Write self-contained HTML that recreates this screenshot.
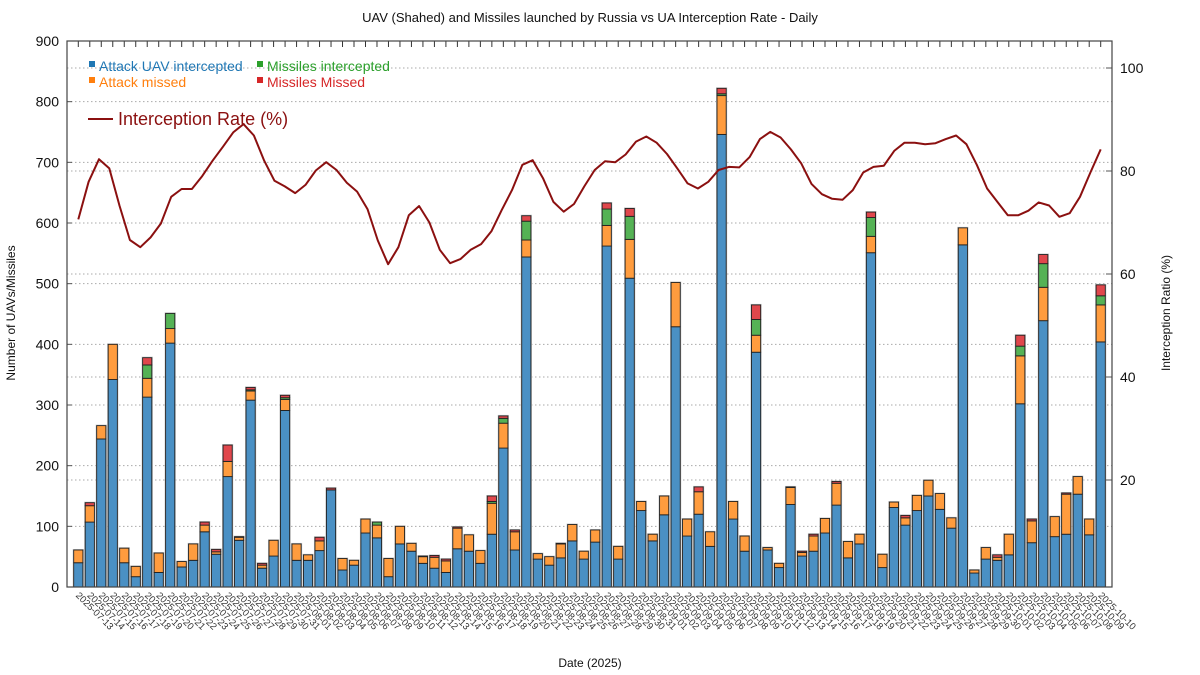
<!DOCTYPE html>
<html><head><meta charset="utf-8"><style>
html,body{margin:0;padding:0;background:#fff;}
svg{display:block;font-family:"Liberation Sans",Arial,sans-serif;}
</style></head><body>
<svg id="chart" width="1200" height="675" viewBox="0 0 1200 675" xmlns="http://www.w3.org/2000/svg">
<text x="590" y="22" font-size="13" text-anchor="middle" fill="#111">UAV (Shahed) and Missiles launched by Russia vs UA Interception Rate - Daily</text>
<g id="grid"></g>
<g id="bars"></g>
<g id="line"></g>
<g id="axes"></g>
<g>
<rect x="89" y="61" width="6" height="6" fill="#1f77b4"/>
<text x="99" y="71" font-size="14" fill="#1f77b4">Attack UAV intercepted</text>
<rect x="89" y="77" width="6" height="6" fill="#ff7f0e"/>
<text x="99" y="87" font-size="14" fill="#ff7f0e">Attack missed</text>
<rect x="257" y="61" width="6" height="6" fill="#2ca02c"/>
<text x="267" y="71" font-size="14" fill="#2ca02c">Missiles intercepted</text>
<rect x="257" y="77" width="6" height="6" fill="#d62728"/>
<text x="267" y="87" font-size="14" fill="#d62728">Missiles Missed</text>
<line x1="88" y1="119" x2="113" y2="119" stroke="#8b1010" stroke-width="2"/>
<text x="118" y="125" font-size="18" fill="#8b1010">Interception Rate (%)</text>
</g>
<text transform="translate(15,313) rotate(-90)" font-size="12" text-anchor="middle" fill="#111">Number of UAVs/Missiles</text>
<text transform="translate(1170,313) rotate(-90)" font-size="12" text-anchor="middle" fill="#111">Interception Ratio (%)</text>
<text x="590" y="667" font-size="12" text-anchor="middle" fill="#111">Date (2025)</text>
</svg>
<script>
const blueVals=[40,107,244,342,40,17,313,24,402,33,44,91,54,182,77,308,31,51,291,44,44,60,160,28,36,89,81,17,71,59,39,31,24,63,59,39,87,229,61,544,46,36,48,76,46,74,562,46,509,126,76,119,429,84,120,67,746,112,59,387,61,32,136,51,59,89,135,48,71,551,32,131,102,126,150,128,97,564,23,46,44,53,302,73,439,83,87,153,86,404];
const orangeVals=[21,27,22,58,24,17,31,32,24,9,27,11,4,25,5,15,5,26,18,27,9,16,0,19,8,23,21,30,29,13,11,18,19,34,27,21,51,41,30,28,9,14,23,27,13,20,34,21,64,15,11,31,73,28,37,24,64,29,25,28,4,7,28,6,25,24,36,27,16,27,22,9,12,25,26,26,17,28,5,19,5,34,79,36,55,33,66,29,26,61];
const greenVals=[0,0,0,0,0,0,22,0,25,0,0,0,0,0,0,2,0,0,3,0,0,0,0,0,0,0,5,0,0,0,0,0,0,0,0,0,3,8,0,31,0,0,0,0,0,0,27,0,38,0,0,0,0,0,0,0,3,0,0,26,0,0,0,0,0,0,0,0,0,31,0,0,0,0,0,0,0,0,0,0,0,0,16,0,39,0,0,0,0,15];
const redVals=[0,5,0,0,0,0,12,0,0,0,0,5,4,27,1,4,3,0,4,0,0,6,3,0,0,0,0,0,0,0,1,3,3,2,0,0,9,4,3,9,0,0,1,0,0,0,10,0,13,0,0,0,0,0,8,0,9,0,0,24,0,0,1,2,3,0,3,0,0,9,0,0,4,0,0,0,0,0,0,0,4,0,18,3,15,0,2,0,0,18];
const rateVals=[70.6,77.9,82.3,80.5,73.2,66.6,65.2,67.1,69.8,75.0,76.5,76.5,79.0,82.0,84.7,87.5,89.1,86.9,82.0,78.1,77.0,75.7,77.3,80.1,81.7,80.2,77.7,76.0,72.6,66.5,61.9,65.2,71.4,73.2,70.0,64.7,62.1,62.9,64.7,65.8,68.3,72.4,76.3,81.2,82.1,78.6,74.0,72.1,73.6,77.0,80.2,81.9,81.7,83.2,85.7,86.7,85.5,83.3,80.5,77.6,76.6,77.9,80.2,80.8,80.7,82.7,86.2,87.6,86.5,84.2,81.5,77.5,75.5,74.6,74.4,76.3,79.7,80.8,81.0,83.9,85.5,85.5,85.2,85.4,86.2,86.9,85.2,81.2,76.6,74.0,71.4,71.4,72.3,73.9,73.3,71.1,71.8,75.0,79.7,84.2];
const leftTicks=[0,100,200,300,400,500,600,700,800,900];
const rightTicks=[0,20,40,60,80,100];
const startDate=[2025,6,13];
const dateLabels=[];
for(let i=0;i<blueVals.length;i++){const d=new Date(Date.UTC(startDate[0],startDate[1],startDate[2]+i));dateLabels.push(d.toISOString().slice(0,10));}

const NS="http://www.w3.org/2000/svg";
const L=67,R=1112,T=41,B=587;
const n=blueVals.length;
const xFirst=78.3,xLast=1100.7;
function xBar(i){return xFirst+i*(xLast-xFirst)/(n-1);}
function yL(v){return B-v*(B-T)/900;}
function yR(v){return 583-v*5.15;}
function xRate(i){return xFirst+i*(xLast-xFirst)/(rateVals.length-1);}
function mk(tag,attrs,parent){const e=document.createElementNS(NS,tag);for(const k in attrs)e.setAttribute(k,attrs[k]);parent.appendChild(e);return e;}

const grid=document.getElementById('grid'),bars=document.getElementById('bars'),line=document.getElementById('line'),axes=document.getElementById('axes');
leftTicks.forEach(v=>{if(v>0&&v<900){const g=mk('line',{x1:L,x2:R,y1:yL(v),y2:yL(v),stroke:'#aaa','stroke-dasharray':'1.5,2.5','stroke-width':1},grid);

}
const t=mk('text',{x:L-8,y:yL(v)+5,'font-size':14,'text-anchor':'end',fill:'#111'},axes);t.textContent=v;


const tk=mk('line',{x1:L,x2:L+5,y1:yL(v),y2:yL(v),stroke:'#555'},axes);

});
rightTicks.forEach(v=>{if(v>0){const g=mk('line',{x1:L,x2:R,y1:yR(v),y2:yR(v),stroke:'#aaa','stroke-dasharray':'1.5,2.5','stroke-width':1},grid);


const t=mk('text',{x:R+8,y:yR(v)+5,'font-size':14,'text-anchor':'start',fill:'#111'},axes);t.textContent=v;


const tk=mk('line',{x1:R-6,x2:R,y1:yR(v),y2:yR(v),stroke:'#555'},axes);

}});

const series=[[blueVals,'#4a90c4'],[orangeVals,'#ff9c3e'],[greenVals,'#55b255'],[redVals,'#e0474c']];
for(let i=0;i<n;i++){
  let base=0;const x=xBar(i)-4.6;
  const total=blueVals[i]+orangeVals[i]+greenVals[i]+redVals[i];
  const sh=mk('rect',{x:x-1,y:yL(total)-1,width:11.2,height:yL(0)-yL(total)+1,fill:'#c8c8c8'},bars);
  
  
  series.forEach((s,k)=>{const v=s[0][i];if(v<=0)return;
    const r=mk('rect',{x:x,y:yL(base+v),width:9.2,height:yL(base)-yL(base+v),fill:s[1],stroke:'#222','stroke-width':0.9},bars);
    
    
    base+=v;});
  const tk=mk('line',{x1:xBar(i),x2:xBar(i),y1:T,y2:T+6,stroke:'#333'},axes);
  
  
  const lx=xBar(i)-3,ly=596;
  const t=mk('text',{x:lx,y:ly,'font-size':9.5,fill:'#333',transform:`rotate(45 ${lx} ${ly})`},axes);t.textContent=dateLabels[i];
  
  
}
const pts=rateVals.map((v,i)=>xRate(i).toFixed(1)+','+yR(v).toFixed(1)).join(' ');
const pl=mk('polyline',{points:pts,fill:'none',stroke:'#8b1010','stroke-width':2,'stroke-linejoin':'round'},line);


const fr=mk('rect',{x:L,y:T,width:R-L,height:B-T,fill:'none',stroke:'#444','stroke-width':1.2},axes);


</script>
</body></html>
